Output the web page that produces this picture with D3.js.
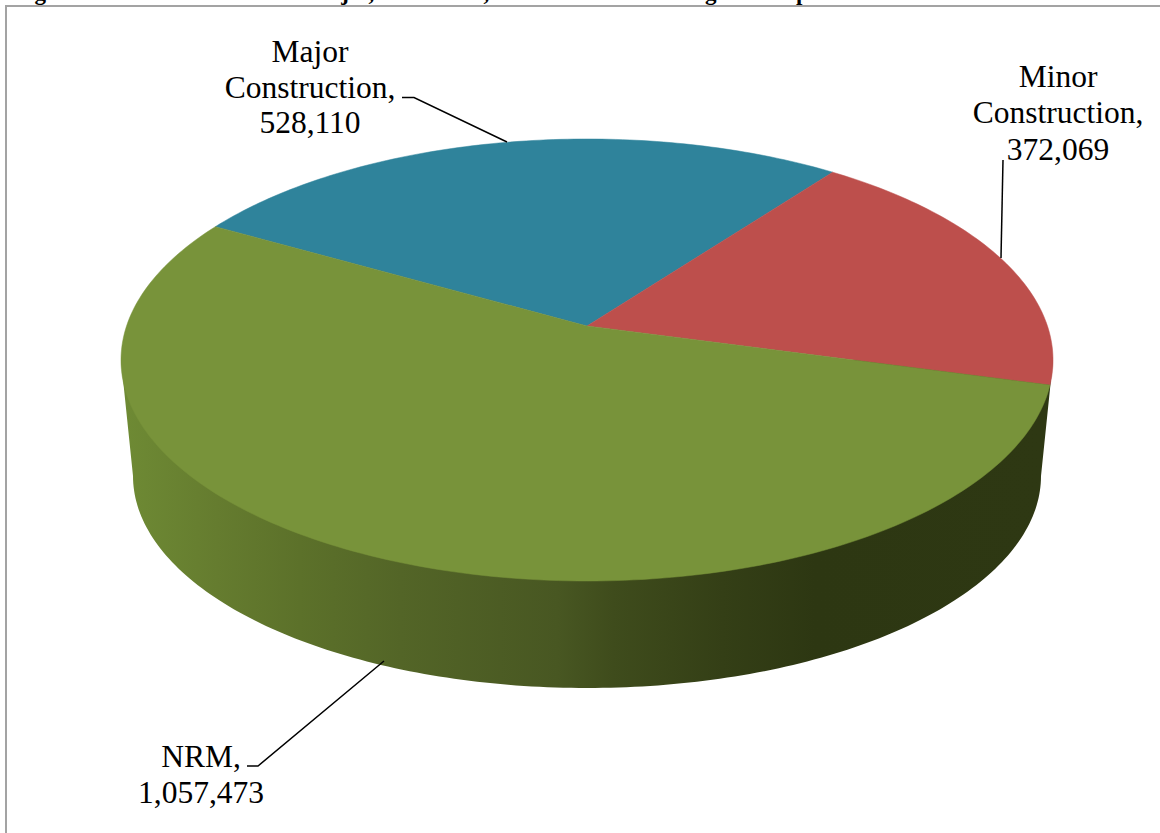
<!DOCTYPE html>
<html><head><meta charset="utf-8">
<script src="https://cdn.jsdelivr.net/npm/d3@7"></script>
<style>html,body{margin:0;padding:0;background:#fff;overflow:hidden}svg{display:block}</style>
</head><body><svg id="c" width="1160" height="833"></svg>
<script>
const categories = ["Major Construction", "Minor Construction", "NRM"];
const values = [528110, 372069, 1057473];
const colors = ["#2f839b", "#bd4f4c", "#78933a"];
const titleWords = [["Figure 1.",14],["Major,",308],["Minor,",423],["and NRM",505],["Budget",664],["Group",744]];
const wallStops = [[0,"#6e8a34"],[.1,"#657c2f"],[.19,"#5c712a"],[.3,"#536527"],[.47,"#485722"],[.53,"#3f4c1c"],[.65,"#343f16"],[.75,"#2d3712"],[1,"#2e3813"]];

const top3d = {cx:587, cy:360, rx:466, ry:221, a:-0.154};
const base3d = {cx:587, cy:476, rx:454, ry:212};
const startDeg = -60.3;

const svg = d3.select("#c");
svg.append("rect").attr("width",1160).attr("height",833).attr("fill","#fff");

// frame
svg.append("rect").attr("x",6).attr("y",6).attr("width",1160).attr("height",840)
  .attr("fill","none").attr("stroke","#a3a3a3").attr("stroke-width",2);

// title, mostly cut off by top of the page
const title = svg.append("text").attr("y",0).attr("font-family","'Liberation Serif'")
  .attr("font-weight","bold").attr("font-size",23).attr("fill","#000");
title.selectAll("tspan").data(titleWords).join("tspan").attr("x",d=>d[1]).text(d=>d[0]);

const defs = svg.append("defs");
const grad = defs.append("linearGradient").attr("id","wall").attr("gradientUnits","userSpaceOnUse")
  .attr("x1",125).attr("x2",1045).attr("y1",0).attr("y2",0);
grad.selectAll("stop").data(wallStops).join("stop").attr("offset",d=>d[0]).attr("stop-color",d=>d[1]);

// side wall: hull of top and base ellipses, front half
const line = d3.line();
const wallPts = [];
d3.range(0,181).forEach(i=>{const t=i*Math.PI/180;
  wallPts.push([base3d.cx+base3d.rx*Math.cos(t), base3d.cy+base3d.ry*Math.sin(t)]);});
svg.append("path")
  .attr("d", line([[top3d.cx-top3d.rx,top3d.cy],...wallPts.slice().reverse(),[top3d.cx+top3d.rx,top3d.cy]].reverse())+"Z")
  .attr("fill","url(#wall)");

// projective mapping of the pie disc onto the tilted ellipse
function project(angle){
  const u=Math.sin(angle), v=-Math.cos(angle), a=top3d.a, k=Math.sqrt(1-a*a), d=1+a*v;
  return [top3d.cx+top3d.rx*u*k/d, top3d.cy+top3d.ry*(v+a)/d];
}
const pie = d3.pie().sort(null).value(d=>d)
  .startAngle(startDeg*Math.PI/180).endAngle(startDeg*Math.PI/180+2*Math.PI);
const arcs = pie(values);
const apex = [top3d.cx, top3d.cy+top3d.ry*top3d.a];
svg.append("g").selectAll("path").data(arcs).join("path")
  .attr("fill",(d,i)=>colors[i]).attr("stroke",(d,i)=>colors[i]).attr("stroke-width",.5)
  .attr("d",d=>{
    const n=Math.ceil((d.endAngle-d.startAngle)*180/Math.PI);
    const pts=d3.range(n+1).map(i=>project(d.startAngle+(d.endAngle-d.startAngle)*i/n));
    return line([apex,...pts])+"Z";
  });

// labels
const fmt = d3.format(",");
const labelLayout = [
  {x:310,y:[62,98,133],lines:["Major","Construction,",fmt(values[0])],leader:[[402,97.5],[414,97.5],[507,142]]},
  {x:1058,y:[87,123,160],lines:["Minor","Construction,",fmt(values[1])],leader:[[1003,160],[1001,258]]},
  {x:201,y:[767,803],lines:["NRM,",fmt(values[2])],leader:[[247,766],[258,766],[384,661]]}
];
const lg = svg.append("g");
labelLayout.forEach(l=>{
  lg.append("path").attr("d",line(l.leader)).attr("fill","none").attr("stroke","#000").attr("stroke-width",1.5);
  l.lines.forEach((t,i)=>lg.append("text").attr("x",l.x).attr("y",l.y[i])
    .attr("text-anchor","middle").attr("font-family","'Liberation Serif'").attr("font-size",31.5)
    .attr("fill","#000").text(t));
});
</script></body></html>
